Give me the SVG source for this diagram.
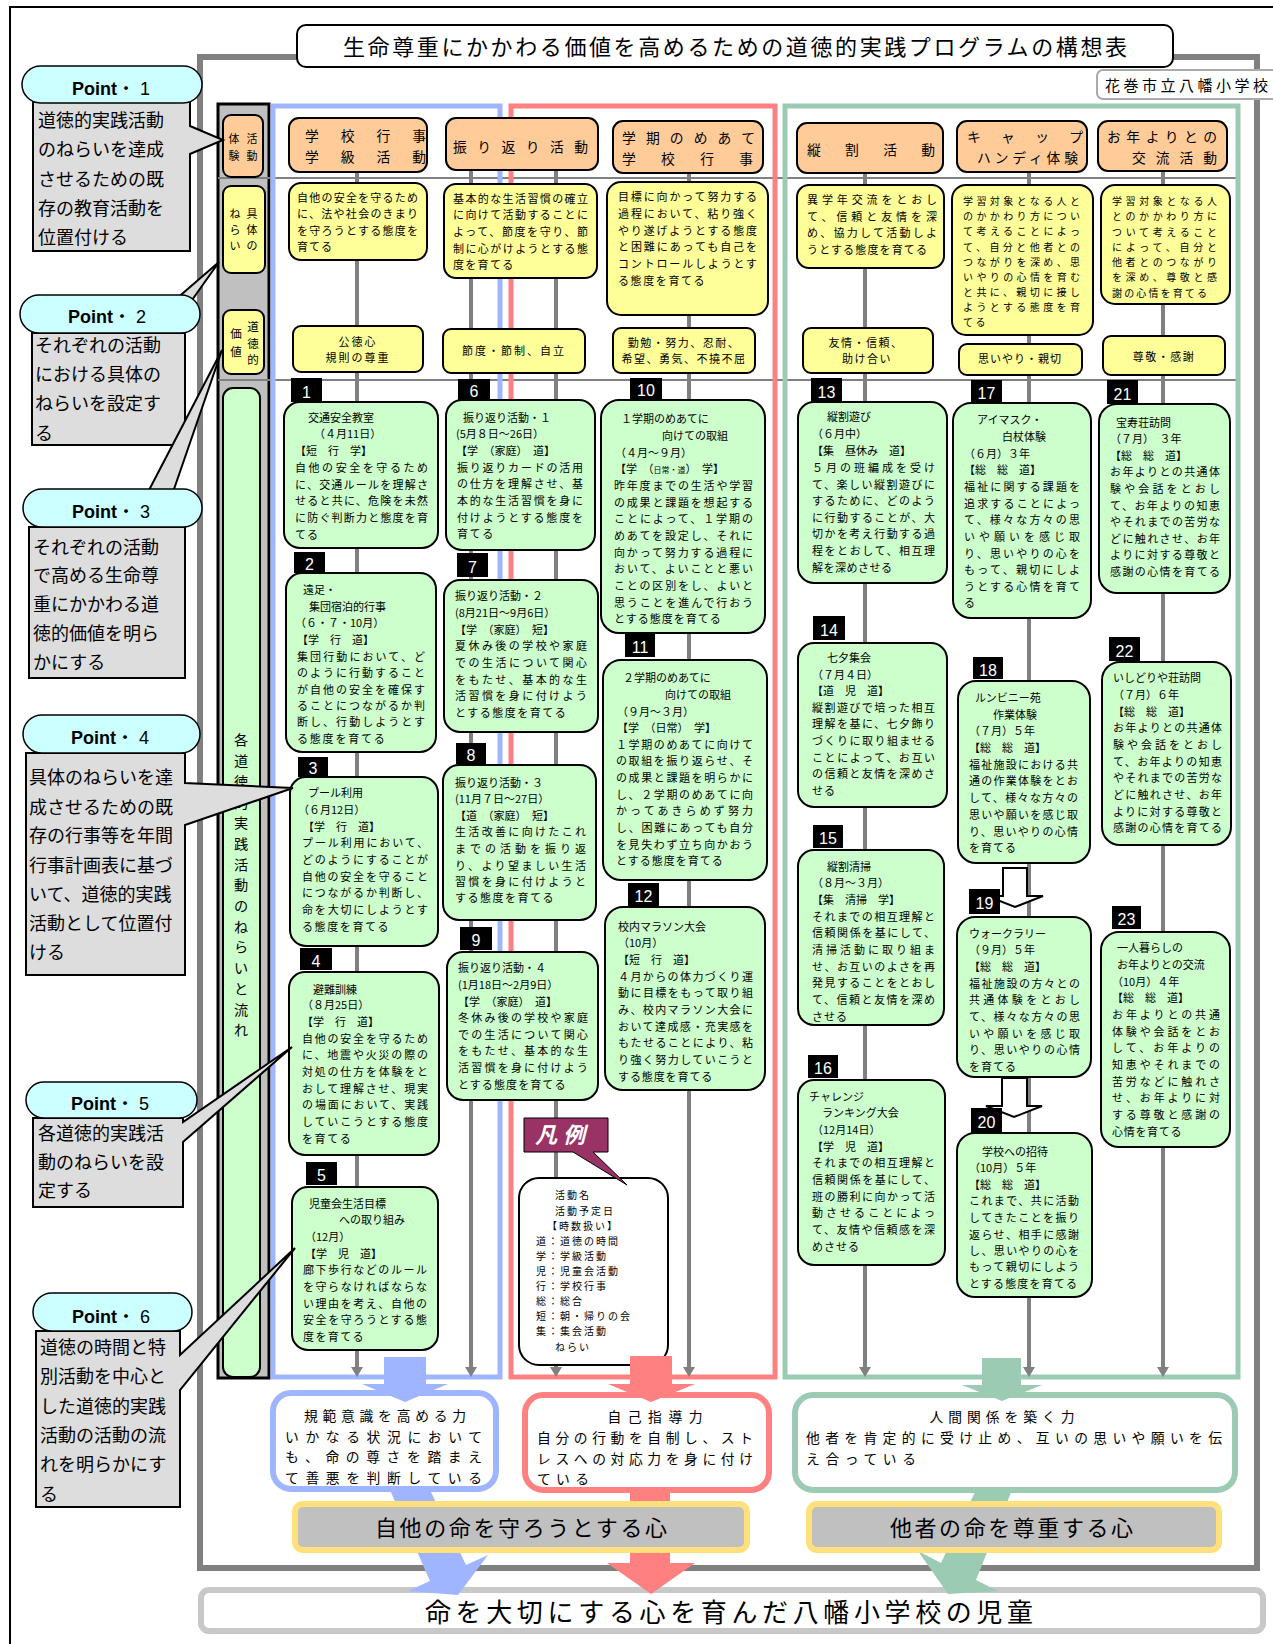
<svg xmlns="http://www.w3.org/2000/svg" width="1273" height="1644" viewBox="0 0 1273 1644">
<defs>
<marker id="ah" markerUnits="userSpaceOnUse" markerWidth="12" markerHeight="12" refX="2" refY="6" orient="auto">
<path d="M0,0 L10,6 L0,12 Z" fill="#808080"/>
</marker>
</defs>
<style>
text{font-family:"Noto Sans CJK JP","Noto Sans CJK SC",sans-serif;fill:#000}
.b{font-size:11px}
.s{font-size:10px}
.h{font-size:13.8px}
.n{font-family:"Liberation Sans",Arial,sans-serif;font-size:16px;fill:#fff;text-anchor:middle}
.act{fill:#ccffcc;stroke:#000;stroke-width:2}
.aim{fill:#ffff99;stroke:#000;stroke-width:2}
.hdr{fill:#ffcc99;stroke:#000;stroke-width:2}
.conn{stroke:#808080;stroke-width:4;fill:none}
.pill{fill:#ccffff;stroke:#000;stroke-width:1.5}
.pbox{fill:#dddddd;stroke:#000;stroke-width:2}
.pt{font-size:18px}
.pn{font-family:"Liberation Sans",Arial,"Noto Sans CJK JP",sans-serif;font-size:18px}
.r{font-size:13.8px}
.c{text-anchor:middle}
.lg{font-size:10px;letter-spacing:2px}
</style>
<rect x="0" y="0" width="1273" height="1644" fill="#fff"/>
<path d="M10,1644 V7 H1273" stroke="#000" stroke-width="2" fill="none"/>
<rect x="200" y="57" width="1057" height="1511" fill="none" stroke="#808080" stroke-width="6"/>

<g id="title">
<rect x="297" y="25" width="876" height="42" rx="9" fill="#fff" stroke="#000" stroke-width="2"/>
<text x="343" y="55" font-size="22" textLength="784">生命尊重にかかわる価値を高めるための道徳的実践プログラムの構想表</text>
</g>
<g id="school">
<rect x="1097" y="70" width="190" height="29" rx="6" fill="#fff" stroke="#aaaaaa" stroke-width="2"/>
<text x="1105" y="91" font-size="15" textLength="163">花巻市立八幡小学校</text>
</g>

<g id="leftcol">
<rect x="218" y="104" width="51" height="1274" fill="#c0c0c0" stroke="#000" stroke-width="3"/>
<path d="M218,178 H1237 M218,380 H1237" stroke="#808080" stroke-width="2"/>
<rect x="223" y="115" width="40" height="62" rx="8" class="hdr"/>
<text class="b c" x="234" y="143">体</text><text class="b c" x="252" y="143">活</text>
<text class="b c" x="234" y="160">験</text><text class="b c" x="252" y="160">動</text>
<rect x="223" y="186" width="42" height="87" rx="8" class="aim"/>
<text class="b c" x="235" y="218">ね</text><text class="b c" x="252" y="218">具</text>
<text class="b c" x="235" y="234">ら</text><text class="b c" x="252" y="234">体</text>
<text class="b c" x="235" y="250">い</text><text class="b c" x="252" y="250">の</text>
<rect x="223" y="310" width="41" height="64" rx="8" class="aim"/>
<text class="c" font-size="11.5" x="236" y="338">価</text><text class="c" font-size="11.5" x="236" y="356">値</text>
<text class="c" font-size="11.5" x="253" y="331">道</text><text class="c" font-size="11.5" x="253" y="348">徳</text><text class="c" font-size="11.5" x="253" y="364">的</text>
<rect x="223" y="388" width="37" height="989" rx="10" class="act"/>
<text class="c" font-size="14.2"><tspan x="241" y="745.4">各</tspan><tspan x="241" dy="20.7">道</tspan><tspan x="241" dy="20.7">徳</tspan><tspan x="241" dy="20.7">的</tspan><tspan x="241" dy="20.7">実</tspan><tspan x="241" dy="20.7">践</tspan><tspan x="241" dy="20.7">活</tspan><tspan x="241" dy="20.7">動</tspan><tspan x="241" dy="20.7">の</tspan><tspan x="241" dy="20.7">ね</tspan><tspan x="241" dy="20.7">ら</tspan><tspan x="241" dy="20.7">い</tspan><tspan x="241" dy="20.7">と</tspan><tspan x="241" dy="20.7">流</tspan><tspan x="241" dy="20.7">れ</tspan></text>
</g>

<g id="frames">
<rect x="273" y="106" width="227" height="1271" fill="none" stroke="#9fb5ff" stroke-width="5"/>
<rect x="511" y="106" width="264" height="1271" fill="none" stroke="#ff8080" stroke-width="5"/>
<rect x="785" y="106" width="453" height="1271" fill="none" stroke="#9ccbb4" stroke-width="5"/>
</g>

<g id="connectors">
<path class="conn" marker-end="url(#ah)" d="M357,172 V1369"/>
<path class="conn" marker-end="url(#ah)" d="M471,170 V1369"/>
<path class="conn" marker-end="url(#ah)" d="M556,170 V1369"/>
<path class="conn" marker-end="url(#ah)" d="M689,173 V1369"/>
<path class="conn" marker-end="url(#ah)" d="M865,173 V1369"/>
<path class="conn" marker-end="url(#ah)" d="M1029,172 V1369"/>
<path class="conn" marker-end="url(#ah)" d="M1163,171 V1369"/>
<polygon points="1003,868 1027,868 1027,896 1043,896 1015,907 987,896 1003,896" fill="#fff" stroke="#000" stroke-width="2"/>
<polygon points="1002,1078 1027,1078 1027,1106 1042,1106 1014,1117 986,1106 1002,1106" fill="#fff" stroke="#000" stroke-width="2"/>
</g>

<g id="h1"><rect class="hdr" x="289" y="118" width="138" height="54" rx="10"/>
<text class="h" x="305" y="141" textLength="121">学　校　行　事</text><text class="h" x="305" y="162" textLength="121">学　級　活　動</text></g>
<g id="h2"><rect class="hdr" x="446" y="118" width="152" height="52" rx="10"/>
<text class="h" x="453" y="152" textLength="135">振り返り活動</text></g>
<g id="h3"><rect class="hdr" x="613" y="121" width="150" height="52" rx="10"/>
<text class="h" x="622" y="143" textLength="133">学期のめあて</text><text class="h" x="622" y="164" textLength="131">学　校　行　事</text></g>
<g id="h4"><rect class="hdr" x="797" y="123" width="146" height="50" rx="10"/>
<text class="h" x="807" y="155" textLength="128">縦　割　活　動</text></g>
<g id="h5"><rect class="hdr" x="957" y="121" width="130" height="51" rx="10"/>
<text class="h" x="967" y="142" textLength="116">キャップ</text><text class="h" x="977" y="163" textLength="101">ハンディ体験</text></g>
<g id="h6"><rect class="hdr" x="1098" y="121" width="129" height="50" rx="10"/>
<text class="h" x="1107" y="142" textLength="110">お年よりとの</text><text class="h" x="1132" y="163" textLength="85">交流活動</text></g>

<g id="aim1"><rect class="aim" x="289" y="183" width="138" height="77" rx="12"/>
<text class="b" x="297" y="202" textLength="121">自他の安全を守るため</text>
<text class="b" x="297" y="218" textLength="121">に、法や社会のきまり</text>
<text class="b" x="297" y="235" textLength="121">を守ろうとする態度を</text>
<text class="b" x="297" y="251" letter-spacing="1">育てる</text></g>
<g id="aim2"><rect class="aim" x="444" y="184" width="153" height="94" rx="12"/>
<text class="b" x="453" y="203" textLength="135">基本的な生活習慣の確立</text>
<text class="b" x="453" y="219" textLength="135">に向けて活動することに</text>
<text class="b" x="453" y="236" textLength="135">よって、節度を守り、節</text>
<text class="b" x="453" y="253" textLength="135">制に心がけようとする態</text>
<text class="b" x="453" y="269" letter-spacing="1.3">度を育てる</text></g>
<g id="aim3"><rect class="aim" x="607" y="182" width="161" height="133" rx="14"/>
<text class="b" x="618" y="201" textLength="139">目標に向かって努力する</text>
<text class="b" x="618" y="218" textLength="139">過程において、粘り強く</text>
<text class="b" x="618" y="235" textLength="139">やり遂げようとする態度</text>
<text class="b" x="618" y="251" textLength="139">と困難にあっても自己を</text>
<text class="b" x="618" y="268" textLength="139">コントロールしようとす</text>
<text class="b" x="618" y="285" letter-spacing="1.6">る態度を育てる</text></g>
<g id="aim4"><rect class="aim" x="797" y="185" width="147" height="83" rx="12"/>
<text class="b" x="807" y="204" textLength="130">異学年交流をとおし</text>
<text class="b" x="807" y="221" textLength="130">て、信頼と友情を深</text>
<text class="b" x="807" y="237" textLength="130">め、協力して活動しよ</text>
<text class="b" x="807" y="254" textLength="120">うとする態度を育てる</text></g>
<g id="aim5"><rect class="aim" x="952" y="185" width="141" height="150" rx="14"/>
<text class="s" x="963" y="205" textLength="117">学習対象となる人と</text>
<text class="s" x="963" y="220" textLength="117">のかかわり方につい</text>
<text class="s" x="963" y="235" textLength="117">て考えることによっ</text>
<text class="s" x="963" y="251" textLength="117">て、自分と他者との</text>
<text class="s" x="963" y="266" textLength="117">つながりを深め、思</text>
<text class="s" x="963" y="281" textLength="117">いやりの心情を育む</text>
<text class="s" x="963" y="296" textLength="117">と共に、親切に接し</text>
<text class="s" x="963" y="311" textLength="117">ようとする態度を育</text>
<text class="s" x="963" y="326" letter-spacing="2.5">てる</text></g>
<g id="aim6"><rect class="aim" x="1101" y="185" width="129" height="119" rx="14"/>
<text class="s" x="1112" y="205" textLength="105">学習対象となる人</text>
<text class="s" x="1112" y="220" textLength="105">とのかかわり方に</text>
<text class="s" x="1112" y="236" textLength="105">ついて考えること</text>
<text class="s" x="1112" y="251" textLength="105">によって、自分と</text>
<text class="s" x="1112" y="266" textLength="105">他者とのつながり</text>
<text class="s" x="1112" y="281" textLength="105">を深め、尊敬と感</text>
<text class="s" x="1112" y="297" textLength="95">謝の心情を育てる</text></g>

<g id="v1"><rect class="aim" x="293" y="326" width="130" height="46" rx="8"/>
<text class="b c" x="358" y="346" letter-spacing="2">公徳心</text><text class="b c" x="358" y="362" letter-spacing="2">規則の尊重</text></g>
<g id="v2"><rect class="aim" x="443" y="329" width="142" height="44" rx="8"/>
<text class="b c" x="514" y="355" letter-spacing="2">節度・節制、自立</text></g>
<g id="v3"><rect class="aim" x="613" y="328" width="142" height="45" rx="8"/>
<text class="b c" x="684" y="347" letter-spacing="1.5">勤勉・努力、忍耐、</text><text class="b c" x="684" y="363" letter-spacing="1.5">希望、勇気、不撓不屈</text></g>
<g id="v4"><rect class="aim" x="803" y="328" width="130" height="45" rx="8"/>
<text class="b c" x="866" y="347" letter-spacing="1.5">友情・信頼、</text><text class="b c" x="867" y="363" letter-spacing="1.5">助け合い</text></g>
<g id="v5"><rect class="aim" x="959" y="344" width="123" height="31" rx="8"/>
<text class="b c" x="1020" y="363" letter-spacing="1">思いやり・親切</text></g>
<g id="v6"><rect class="aim" x="1103" y="336" width="122" height="39" rx="8"/>
<text class="b c" x="1164" y="361" letter-spacing="1.5">尊敬・感謝</text></g>

<g id="a1"><rect x="291" y="378" width="31" height="24"/><text class="n" x="306.5" y="398">1</text>
<rect class="act" x="284" y="402" width="154" height="146" rx="16"/>
<text class="b" x="308" y="422">交通安全教室</text><text class="b" x="314" y="438">（４月11日）</text><text class="b" x="295" y="455">【短　行　学】</text>
<text class="b" x="295" y="472" textLength="133">自他の安全を守るため</text>
<text class="b" x="295" y="489" textLength="133">に、交通ルールを理解さ</text>
<text class="b" x="295" y="505" textLength="133">せると共に、危険を未然</text>
<text class="b" x="295" y="522" textLength="133">に防ぐ判断力と態度を育</text>
<text class="b" x="295" y="539" letter-spacing="1.1">てる</text></g>

<g id="a2"><rect x="294" y="552" width="31" height="21"/><text class="n" x="309.5" y="570">2</text>
<rect class="act" x="286" y="573" width="150" height="179" rx="16"/>
<text class="b" x="303" y="594">遠足・</text><text class="b" x="309" y="611">集団宿泊的行事</text><text class="b" x="295" y="627">（６・７・10月）</text><text class="b" x="297" y="644">【学　行　道】</text>
<text class="b" x="297" y="661" textLength="128">集団行動において、ど</text>
<text class="b" x="297" y="677" textLength="128">のように行動すること</text>
<text class="b" x="297" y="694" textLength="128">が自他の安全を確保す</text>
<text class="b" x="297" y="710" textLength="128">ることにつながるか判</text>
<text class="b" x="297" y="726" textLength="128">断し、行動しようとす</text>
<text class="b" x="297" y="743" letter-spacing="1.8">る態度を育てる</text></g>

<g id="a3"><rect x="298" y="757" width="30" height="20"/><text class="n" x="313" y="774">3</text>
<rect class="act" x="290" y="777" width="148" height="169" rx="16"/>
<text class="b" x="308" y="797">プール利用</text><text class="b" x="298" y="814">（６月12日）</text><text class="b" x="303" y="831">【学　行　道】</text>
<text class="b" x="302" y="847" textLength="126">プール利用において、</text>
<text class="b" x="302" y="864" textLength="126">どのようにすることが</text>
<text class="b" x="302" y="881" textLength="126">自他の安全を守ること</text>
<text class="b" x="302" y="897" textLength="126">につながるか判断し、</text>
<text class="b" x="302" y="914" textLength="126">命を大切にしようとす</text>
<text class="b" x="302" y="931" letter-spacing="1.6">る態度を育てる</text></g>

<g id="a4"><rect x="300" y="948" width="32" height="22"/><text class="n" x="316" y="967">4</text>
<rect class="act" x="289" y="972" width="150" height="183" rx="16"/>
<text class="b" x="313" y="994">避難訓練</text><text class="b" x="302" y="1009">（８月25日）</text><text class="b" x="302" y="1026">【学　行　道】</text>
<text class="b" x="302" y="1043" textLength="126">自他の安全を守るため</text>
<text class="b" x="302" y="1059" textLength="126">に、地震や火災の際の</text>
<text class="b" x="302" y="1076" textLength="126">対処の仕方を体験をと</text>
<text class="b" x="302" y="1093" textLength="126">おして理解させ、現実</text>
<text class="b" x="302" y="1109" textLength="126">の場面において、実践</text>
<text class="b" x="302" y="1126" textLength="126">していこうとする態度</text>
<text class="b" x="302" y="1143" letter-spacing="1.6">を育てる</text></g>

<g id="a5"><rect x="306" y="1162" width="31" height="23"/><text class="n" x="321.5" y="1181">5</text>
<rect class="act" x="292" y="1187" width="146" height="163" rx="16"/>
<text class="b" x="309" y="1208">児童会生活目標</text><text class="b" x="339" y="1224">への取り組み</text><text class="b" x="305" y="1241">（12月）</text><text class="b" x="305" y="1258">【学　児　道】</text>
<text class="b" x="303" y="1274" textLength="124">廊下歩行などのルール</text>
<text class="b" x="303" y="1291" textLength="124">を守らなければならな</text>
<text class="b" x="303" y="1308" textLength="124">い理由を考え、自他の</text>
<text class="b" x="303" y="1324" textLength="124">安全を守ろうとする態</text>
<text class="b" x="303" y="1341" letter-spacing="1.4">度を育てる</text></g>

<g id="a6"><rect x="458" y="379" width="32" height="21"/><text class="n" x="474" y="397">6</text>
<rect class="act" x="446" y="400" width="149" height="150" rx="16"/>
<text class="b" x="463" y="422">振り返り活動・１</text><text class="b" x="456" y="438">(5月８日～26日）</text><text class="b" x="456" y="455">【学　（家庭）　道】</text>
<text class="b" x="457" y="472" textLength="126">振り返りカードの活用</text>
<text class="b" x="457" y="488" textLength="126">の仕方を理解させ、基</text>
<text class="b" x="457" y="505" textLength="126">本的な生活習慣を身に</text>
<text class="b" x="457" y="522" textLength="126">付けようとする態度を</text>
<text class="b" x="457" y="538" letter-spacing="1.6">育てる</text></g>

<g id="a7"><rect x="457" y="553" width="31" height="24"/><text class="n" x="472.5" y="573">7</text>
<rect class="act" x="444" y="580" width="154" height="152" rx="16"/>
<text class="b" x="455" y="600">振り返り活動・２</text><text class="b" x="455" y="617">(8月21日～9月6日）</text><text class="b" x="455" y="634">【学　（家庭）　短】</text>
<text class="b" x="455" y="650" textLength="132">夏休み後の学校や家庭</text>
<text class="b" x="455" y="667" textLength="132">での生活について関心</text>
<text class="b" x="455" y="684" textLength="132">をもたせ、基本的な生</text>
<text class="b" x="455" y="700" textLength="132">活習慣を身に付けよう</text>
<text class="b" x="455" y="717" letter-spacing="1.5">とする態度を育てる</text></g>

<g id="a8"><rect x="456" y="743" width="30" height="21"/><text class="n" x="471" y="761">8</text>
<rect class="act" x="443" y="765" width="153" height="155" rx="16"/>
<text class="b" x="455" y="787">振り返り活動・３</text><text class="b" x="455" y="803">(11月７日～27日）</text><text class="b" x="455" y="820">【道　（家庭）　短】</text>
<text class="b" x="455" y="836" textLength="131">生活改善に向けたこれ</text>
<text class="b" x="455" y="853" textLength="131">までの活動を振り返</text>
<text class="b" x="455" y="870" textLength="131">り、より望ましい生活</text>
<text class="b" x="455" y="886" textLength="131">習慣を身に付けようと</text>
<text class="b" x="455" y="902" letter-spacing="1.5">する態度を育てる</text></g>

<g id="a9"><rect x="460" y="927" width="32" height="23"/><text class="n" x="476" y="946">9</text>
<rect class="act" x="447" y="952" width="151" height="148" rx="16"/>
<text class="b" x="458" y="972">振り返り活動・４</text><text class="b" x="458" y="989">(1月18日～2月9日）</text><text class="b" x="458" y="1006">【学　（家庭）　道】</text>
<text class="b" x="458" y="1022" textLength="130">冬休み後の学校や家庭</text>
<text class="b" x="458" y="1039" textLength="130">での生活について関心</text>
<text class="b" x="458" y="1055" textLength="130">をもたせ、基本的な生</text>
<text class="b" x="458" y="1072" textLength="130">活習慣を身に付けよう</text>
<text class="b" x="458" y="1089" letter-spacing="1.1">とする態度を育てる</text></g>

<g id="a10"><rect x="630" y="378" width="32" height="21"/><text class="n" x="646" y="396">10</text>
<rect class="act" x="601" y="400" width="164" height="233" rx="18"/>
<text class="b" x="621" y="423">１学期のめあてに</text><text class="b" x="662" y="440">向けての取組</text><text class="b" x="615" y="457">（４月～９月）</text>
<text class="b" x="615" y="473">【学　（<tspan font-size="8">日常・道</tspan>）　学】</text>
<text class="b" x="614" y="490" textLength="139">昨年度までの生活や学習</text>
<text class="b" x="614" y="507" textLength="139">の成果と課題を想起する</text>
<text class="b" x="614" y="523" textLength="139">ことによって、１学期の</text>
<text class="b" x="614" y="540" textLength="139">めあてを設定し、それに</text>
<text class="b" x="614" y="557" textLength="139">向かって努力する過程に</text>
<text class="b" x="614" y="573" textLength="139">おいて、よいことと悪い</text>
<text class="b" x="614" y="590" textLength="139">ことの区別をし、よいと</text>
<text class="b" x="614" y="607" textLength="139">思うことを進んで行おう</text>
<text class="b" x="614" y="623" letter-spacing="1">とする態度を育てる</text></g>

<g id="a11"><rect x="625" y="634" width="30" height="23"/><text class="n" x="640" y="653">11</text>
<rect class="act" x="603" y="660" width="164" height="220" rx="18"/>
<text class="b" x="623" y="682">２学期のめあてに</text><text class="b" x="665" y="699">向けての取組</text><text class="b" x="617" y="716">（９月～３月）</text><text class="b" x="617" y="732">【学　（日常）　学】</text>
<text class="b" x="616" y="749" textLength="137">１学期のめあてに向けて</text>
<text class="b" x="616" y="765" textLength="137">の取組を振り返らせ、そ</text>
<text class="b" x="616" y="782" textLength="137">の成果と課題を明らかに</text>
<text class="b" x="616" y="799" textLength="137">し、２学期のめあてに向</text>
<text class="b" x="616" y="815" textLength="137">かってあきらめず努力</text>
<text class="b" x="616" y="832" textLength="137">し、困難にあっても自分</text>
<text class="b" x="616" y="849" textLength="137">を見失わず立ち向かおう</text>
<text class="b" x="616" y="865" letter-spacing="1">とする態度を育てる</text></g>

<g id="a12"><rect x="628" y="883" width="31" height="23"/><text class="n" x="643.5" y="902">12</text>
<rect class="act" x="605" y="907" width="160" height="183" rx="18"/>
<text class="b" x="618" y="931">校内マラソン大会</text><text class="b" x="618" y="947">（10月）</text><text class="b" x="618" y="964">【短　行　道】</text>
<text class="b" x="618" y="981" textLength="135">４月からの体力づくり運</text>
<text class="b" x="618" y="997" textLength="135">動に目標をもって取り組</text>
<text class="b" x="618" y="1014" textLength="135">み、校内マラソン大会に</text>
<text class="b" x="618" y="1031" textLength="135">おいて達成感・充実感を</text>
<text class="b" x="618" y="1047" textLength="135">もたせることにより、粘</text>
<text class="b" x="618" y="1064" textLength="135">り強く努力していこうと</text>
<text class="b" x="618" y="1081" letter-spacing="0.9">する態度を育てる</text></g>

<g id="a13"><rect x="811" y="378" width="31" height="24"/><text class="n" x="826.5" y="398">13</text>
<rect class="act" x="798" y="402" width="149" height="181" rx="16"/>
<text class="b" x="827" y="421">縦割遊び</text><text class="b" x="812" y="438">（６月中）</text><text class="b" x="812" y="455">【集　昼休み　道】</text>
<text class="b" x="812" y="472" textLength="123">５月の班編成を受け</text>
<text class="b" x="812" y="489" textLength="123">て、楽しい縦割遊びに</text>
<text class="b" x="812" y="505" textLength="123">するために、どのよう</text>
<text class="b" x="812" y="522" textLength="123">に行動することが、大</text>
<text class="b" x="812" y="538" textLength="123">切かを考え行動する過</text>
<text class="b" x="812" y="555" textLength="123">程をとおして、相互理</text>
<text class="b" x="812" y="572" letter-spacing="0.5">解を深めさせる</text></g>

<g id="a14"><rect x="813" y="616" width="32" height="24"/><text class="n" x="829" y="636">14</text>
<rect class="act" x="798" y="643" width="149" height="164" rx="16"/>
<text class="b" x="827" y="662">七夕集会</text><text class="b" x="812" y="679">（７月４日）</text><text class="b" x="812" y="695">【道　児　道】</text>
<text class="b" x="812" y="712" textLength="123">縦割遊びで培った相互</text>
<text class="b" x="812" y="728" textLength="123">理解を基に、七夕飾り</text>
<text class="b" x="812" y="745" textLength="123">づくりに取り組ませる</text>
<text class="b" x="812" y="762" textLength="123">ことによって、お互い</text>
<text class="b" x="812" y="778" textLength="123">の信頼と友情を深めさ</text>
<text class="b" x="812" y="795" letter-spacing="1">せる</text></g>

<g id="a15"><rect x="813" y="825" width="30" height="23"/><text class="n" x="828" y="844">15</text>
<rect class="act" x="798" y="850" width="146" height="175" rx="16"/>
<text class="b" x="827" y="871">縦割清掃</text><text class="b" x="812" y="887">（８月～３月）</text><text class="b" x="812" y="904">【集　清掃　学】</text>
<text class="b" x="812" y="921" textLength="123">それまでの相互理解と</text>
<text class="b" x="812" y="937" textLength="123">信頼関係を基にして、</text>
<text class="b" x="812" y="954" textLength="123">清掃活動に取り組ま</text>
<text class="b" x="812" y="971" textLength="123">せ、お互いのよさを再</text>
<text class="b" x="812" y="987" textLength="123">発見することをとおし</text>
<text class="b" x="812" y="1004" textLength="123">て、信頼と友情を深め</text>
<text class="b" x="812" y="1021" letter-spacing="1">させる</text></g>

<g id="a16"><rect x="808" y="1055" width="30" height="23"/><text class="n" x="823" y="1074">16</text>
<rect class="act" x="798" y="1080" width="147" height="185" rx="16"/>
<text class="b" x="809" y="1101">チャレンジ</text><text class="b" x="822" y="1117">ランキング大会</text><text class="b" x="812" y="1134">（12月14日）</text><text class="b" x="812" y="1151">【学　児　道】</text>
<text class="b" x="812" y="1167" textLength="123">それまでの相互理解と</text>
<text class="b" x="812" y="1184" textLength="123">信頼関係を基にして、</text>
<text class="b" x="812" y="1201" textLength="123">班の勝利に向かって活</text>
<text class="b" x="812" y="1217" textLength="123">動させることによっ</text>
<text class="b" x="812" y="1234" textLength="123">て、友情や信頼感を深</text>
<text class="b" x="812" y="1251" letter-spacing="1">めさせる</text></g>

<g id="a17"><rect x="971" y="380" width="31" height="23"/><text class="n" x="986.5" y="399">17</text>
<rect class="act" x="953" y="403" width="138" height="215" rx="18"/>
<text class="b" x="977" y="424">アイマスク・</text><text class="b" x="1002" y="441">白杖体験</text><text class="b" x="964" y="458">（６月）３年</text><text class="b" x="964" y="474">【総　総　道】</text>
<text class="b" x="964" y="491" textLength="116">福祉に関する課題を</text>
<text class="b" x="964" y="508" textLength="116">追求することによっ</text>
<text class="b" x="964" y="524" textLength="116">て、様々な方々の思</text>
<text class="b" x="964" y="541" textLength="116">いや願いを感じ取</text>
<text class="b" x="964" y="558" textLength="116">り、思いやりの心を</text>
<text class="b" x="964" y="574" textLength="116">もって、親切にしよ</text>
<text class="b" x="964" y="591" textLength="116">うとする心情を育て</text>
<text class="b" x="964" y="607">る</text></g>

<g id="a18"><rect x="973" y="657" width="30" height="22"/><text class="n" x="988" y="676">18</text>
<rect class="act" x="958" y="681" width="132" height="182" rx="18"/>
<text class="b" x="975" y="702">ルンビニー苑</text><text class="b" x="993" y="719">作業体験</text><text class="b" x="969" y="735">（７月）５年</text><text class="b" x="969" y="752">【総　総　道】</text>
<text class="b" x="969" y="769" textLength="109">福祉施設における共</text>
<text class="b" x="969" y="785" textLength="109">通の作業体験をとお</text>
<text class="b" x="969" y="802" textLength="109">して、様々な方々の</text>
<text class="b" x="969" y="819" textLength="109">思いや願いを感じ取</text>
<text class="b" x="969" y="836" textLength="109">り、思いやりの心情</text>
<text class="b" x="969" y="852" letter-spacing="1">を育てる</text></g>

<g id="a19"><rect x="969" y="889" width="31" height="25"/><text class="n" x="984.5" y="909">19</text>
<rect class="act" x="957" y="917" width="134" height="160" rx="18"/>
<text class="b" x="969" y="938">ウォークラリー</text><text class="b" x="969" y="954">（９月）５年</text><text class="b" x="969" y="971">【総　総　道】</text>
<text class="b" x="969" y="988" textLength="111">福祉施設の方々との</text>
<text class="b" x="969" y="1004" textLength="111">共通体験をとおし</text>
<text class="b" x="969" y="1021" textLength="111">て、様々な方々の思</text>
<text class="b" x="969" y="1038" textLength="111">いや願いを感じ取</text>
<text class="b" x="969" y="1054" textLength="111">り、思いやりの心情</text>
<text class="b" x="969" y="1071" letter-spacing="1">を育てる</text></g>

<g id="a20"><rect x="971" y="1108" width="31" height="25"/><text class="n" x="986.5" y="1128">20</text>
<rect class="act" x="957" y="1133" width="135" height="164" rx="18"/>
<text class="b" x="982" y="1156">学校への招待</text><text class="b" x="969" y="1172">（10月）５年</text><text class="b" x="969" y="1189">【総　総　道】</text>
<text class="b" x="969" y="1205" textLength="110">これまで、共に活動</text>
<text class="b" x="969" y="1222" textLength="110">してきたことを振り</text>
<text class="b" x="969" y="1239" textLength="110">返らせ、相手に感謝</text>
<text class="b" x="969" y="1255" textLength="110">し、思いやりの心を</text>
<text class="b" x="969" y="1271" textLength="110">もって親切にしよう</text>
<text class="b" x="969" y="1288" textLength="108">とする態度を育てる</text></g>

<g id="a21"><rect x="1107" y="380" width="31" height="24"/><text class="n" x="1122.5" y="400">21</text>
<rect class="act" x="1099" y="404" width="131" height="189" rx="18"/>
<text class="b" x="1116" y="427">宝寿荘訪問</text><text class="b" x="1110" y="443">（７月）　３年</text><text class="b" x="1110" y="460">【総　総　道】</text>
<text class="b" x="1110" y="476" textLength="110">お年よりとの共通体</text>
<text class="b" x="1110" y="493" textLength="110">験や会話をとおし</text>
<text class="b" x="1110" y="510" textLength="110">て、お年よりの知恵</text>
<text class="b" x="1110" y="526" textLength="110">やそれまでの苦労な</text>
<text class="b" x="1110" y="543" textLength="110">どに触れさせ、お年</text>
<text class="b" x="1110" y="559" textLength="110">よりに対する尊敬と</text>
<text class="b" x="1110" y="576" textLength="110">感謝の心情を育てる</text></g>

<g id="a22"><rect x="1109" y="637" width="31" height="24"/><text class="n" x="1124.5" y="657">22</text>
<rect class="act" x="1102" y="662" width="129" height="183" rx="18"/>
<text class="b" x="1113" y="682">いしどりや荘訪問</text><text class="b" x="1113" y="699">（７月）６年</text><text class="b" x="1113" y="716">【総　総　道】</text>
<text class="b" x="1113" y="732" textLength="109">お年よりとの共通体</text>
<text class="b" x="1113" y="749" textLength="109">験や会話をとおし</text>
<text class="b" x="1113" y="766" textLength="109">て、お年よりの知恵</text>
<text class="b" x="1113" y="782" textLength="109">やそれまでの苦労な</text>
<text class="b" x="1113" y="799" textLength="109">どに触れさせ、お年</text>
<text class="b" x="1113" y="816" textLength="109">よりに対する尊敬と</text>
<text class="b" x="1113" y="832" textLength="109">感謝の心情を育てる</text></g>

<g id="a23"><rect x="1112" y="906" width="29" height="23"/><text class="n" x="1126.5" y="925">23</text>
<rect class="act" x="1101" y="932" width="129" height="215" rx="18"/>
<text class="b" x="1117" y="952">一人暮らしの</text><text class="b" x="1117" y="969">お年よりとの交流</text><text class="b" x="1112" y="986">（10月）４年</text><text class="b" x="1112" y="1002">【総　総　道】</text>
<text class="b" x="1112" y="1019" textLength="108">お年よりとの共通</text>
<text class="b" x="1112" y="1036" textLength="108">体験や会話をとお</text>
<text class="b" x="1112" y="1052" textLength="108">して、お年よりの</text>
<text class="b" x="1112" y="1069" textLength="108">知恵やそれまでの</text>
<text class="b" x="1112" y="1086" textLength="108">苦労などに触れさ</text>
<text class="b" x="1112" y="1102" textLength="108">せ、お年よりに対</text>
<text class="b" x="1112" y="1119" textLength="108">する尊敬と感謝の</text>
<text class="b" x="1112" y="1136" letter-spacing="0.7">心情を育てる</text></g>

<g id="legend">
<rect x="519" y="1178" width="149" height="187" rx="20" fill="#fff" stroke="#000" stroke-width="2"/>
<text class="lg" x="555" y="1199">活動名</text>
<text class="lg" x="555" y="1215">活動予定日</text>
<text class="lg" x="547" y="1230">【時数扱い】</text>
<text class="lg" x="536" y="1245">道：道徳の時間</text>
<text class="lg" x="536" y="1260">学：学級活動</text>
<text class="lg" x="536" y="1275">児：児童会活動</text>
<text class="lg" x="536" y="1290">行：学校行事</text>
<text class="lg" x="536" y="1305">総：総合</text>
<text class="lg" x="536" y="1320">短：朝・帰りの会</text>
<text class="lg" x="536" y="1335">集：集会活動</text>
<text class="lg" x="555" y="1351">ねらい</text>
<path d="M524,1118 H608 V1152 H593 L627,1185 L573,1152 H524 Z" fill="#993366" stroke="#000" stroke-width="1"/>
<text x="535" y="1143" font-size="22" font-weight="bold" font-style="italic" letter-spacing="6" style="fill:#fff">凡例</text>
</g>

<g id="results">
<rect x="273" y="1393" width="223" height="96" rx="18" fill="#fff" stroke="#9fb5ff" stroke-width="6"/>
<text class="r c" x="385" y="1421" textLength="162">規範意識を高める力</text>
<text class="r" x="285" y="1441.5" textLength="197">いかなる状況において</text>
<text class="r" x="285" y="1462" textLength="197">も、命の尊さを踏まえ</text>
<text class="r" x="285" y="1482.5" textLength="197">て善悪を判断している</text>
<rect x="525" y="1395" width="244" height="95" rx="18" fill="#fff" stroke="#ff8080" stroke-width="6"/>
<text class="r c" x="655" y="1422" textLength="95">自己指導力</text>
<text class="r" x="537" y="1443" textLength="216">自分の行動を自制し、スト</text>
<text class="r" x="537" y="1463.5" textLength="216">レスへの対応力を身に付け</text>
<text class="r" x="537" y="1484" textLength="52">ている</text>
<rect x="795" y="1395" width="440" height="95" rx="18" fill="#fff" stroke="#9ccbb4" stroke-width="6"/>
<text class="r c" x="1002" y="1422" textLength="145">人間関係を築く力</text>
<text class="r" x="806" y="1443" textLength="416">他者を肯定的に受け止め、互いの思いや願いを伝</text>
<text class="r" x="806" y="1463.5" textLength="110">え合っている</text>
</g>

<g id="flow-arrows">
<path d="M384,1357 H426 V1384 H448 L405,1402 L362,1384 H384 Z" fill="#9fb5ff"/>
<path d="M630,1356 H672 V1384 H695 L651,1402 L608,1384 H630 Z" fill="#ff8080"/>
<path d="M982,1358 H1021 V1385 H1042 L1002,1401 L962,1385 H982 Z" fill="#9ccbb4"/>
</g>

<g id="final">
<rect x="201" y="1590" width="1062" height="41" rx="8" fill="#fff" stroke="#c8c8c8" stroke-width="6"/>
<text x="425" y="1622" font-size="26" textLength="608">命を大切にする心を育んだ八幡小学校の児童</text>
</g>

<g id="lower-arrows">
<polygon points="390,1490 430,1490 466,1565 488,1555 458,1595 408,1591 430,1581" fill="#9fb5ff"/>
<path d="M630,1490 H670 V1563 H695 L651,1594 L607,1563 H630 Z" fill="#ff8080"/>
<polygon points="976,1490 1012,1490 976,1580 998,1591 948,1594 918,1551 941,1563" fill="#9ccbb4"/>
</g>

<g id="bars">
<rect x="295" y="1504" width="452" height="46" rx="8" fill="#c0c0c0" stroke="#ffe07a" stroke-width="6"/>
<text x="375" y="1536" font-size="22" textLength="292">自他の命を守ろうとする心</text>
<rect x="809" y="1504" width="410" height="46" rx="8" fill="#c0c0c0" stroke="#ffe07a" stroke-width="6"/>
<text x="890" y="1536" font-size="22" textLength="243">他者の命を尊重する心</text>
</g>

<g id="point1">
<path class="pbox" d="M33,102 H190 V126 L223,140 L190,154 V251 H33 Z"/>
<rect class="pill" x="22" y="66" width="180" height="37" rx="18.5"/>
<text class="pn" x="72" y="95"><tspan font-weight="bold">Point</tspan>・ 1</text>
<text class="pt" x="38" y="127">道徳的実践活動</text><text class="pt" x="38" y="156">のねらいを達成</text><text class="pt" x="38" y="186">させるための既</text><text class="pt" x="38" y="215">存の教育活動を</text><text class="pt" x="38" y="244">位置付ける</text>
</g>
<g id="point2">
<polygon class="pbox" points="175,300 192,300 219,262"/>
<rect class="pbox" x="32" y="333" width="153" height="112"/>
<rect class="pill" x="20" y="295" width="180" height="38" rx="19"/>
<text class="pn" x="68" y="323"><tspan font-weight="bold">Point</tspan>・ 2</text>
<text class="pt" x="35" y="352">それぞれの活動</text><text class="pt" x="35" y="381">における具体の</text><text class="pt" x="35" y="410">ねらいを設定す</text><text class="pt" x="35" y="440">る</text>
</g>
<g id="point3">
<polygon class="pbox" points="148,492 173,492 222,350"/>
<rect class="pbox" x="29" y="527" width="156" height="151"/>
<rect class="pill" x="23" y="489" width="179" height="38" rx="19"/>
<text class="pn" x="72" y="518"><tspan font-weight="bold">Point</tspan>・ 3</text>
<text class="pt" x="33" y="554">それぞれの活動</text><text class="pt" x="33" y="582">で高める生命尊</text><text class="pt" x="33" y="611">重にかかわる道</text><text class="pt" x="33" y="640">徳的価値を明ら</text><text class="pt" x="33" y="669">かにする</text>
</g>
<g id="point4">
<path class="pbox" d="M26,753 H185 V783 L293,788 L185,825 V975 H26 Z"/>
<rect class="pill" x="23" y="715" width="177" height="38" rx="19"/>
<text class="pn" x="71" y="744"><tspan font-weight="bold">Point</tspan>・ 4</text>
<text class="pt" x="29" y="784">具体のねらいを達</text><text class="pt" x="29" y="814">成させるための既</text><text class="pt" x="29" y="842">存の行事等を年間</text><text class="pt" x="29" y="872">行事計画表に基づ</text><text class="pt" x="29" y="901">いて、道徳的実践</text><text class="pt" x="29" y="930">活動として位置付</text><text class="pt" x="29" y="959">ける</text>
</g>
<g id="point5">
<path class="pbox" d="M33,1118 H183 V1122 L292,1047 L183,1142 V1207 H33 Z"/>
<rect class="pill" x="26" y="1082" width="171" height="36" rx="18"/>
<text class="pn" x="71" y="1110"><tspan font-weight="bold">Point</tspan>・ 5</text>
<text class="pt" x="38" y="1140">各道徳的実践活</text><text class="pt" x="38" y="1169">動のねらいを設</text><text class="pt" x="38" y="1197">定する</text>
</g>
<g id="point6">
<path class="pbox" d="M36,1331 H180 V1355 L295,1248 L180,1390 V1507 H36 Z"/>
<rect class="pill" x="33" y="1293" width="159" height="38" rx="19"/>
<text class="pn" x="72" y="1323"><tspan font-weight="bold">Point</tspan>・ 6</text>
<text class="pt" x="40" y="1354">道徳の時間と特</text><text class="pt" x="40" y="1383">別活動を中心と</text><text class="pt" x="40" y="1413">した道徳的実践</text><text class="pt" x="40" y="1442">活動の活動の流</text><text class="pt" x="40" y="1471">れを明らかにす</text><text class="pt" x="40" y="1501">る</text>
</g>
</svg>
